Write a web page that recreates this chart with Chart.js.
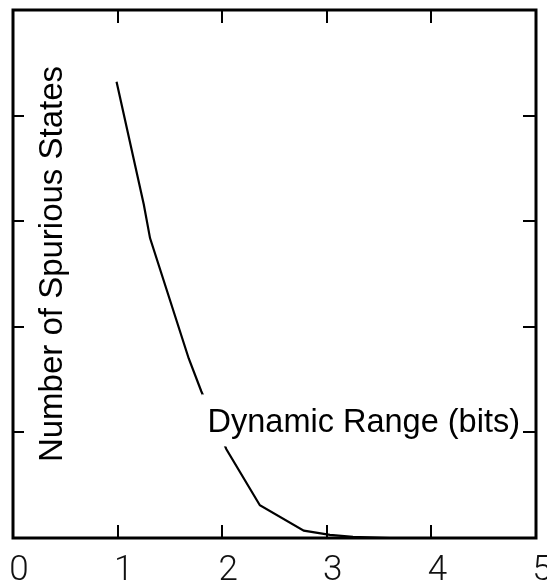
<!DOCTYPE html>
<html><head><meta charset="utf-8">
<script src="https://cdn.jsdelivr.net/npm/chart.js@4/dist/chart.umd.min.js"></script>
<style>html,body{margin:0;padding:0;background:#fff;overflow:hidden;}#wrap{width:547px;height:588px;}</style>
</head><body><div id="wrap"><canvas id="c" width="547" height="588"></canvas></div>
<script>
// Data
const dynamicRangeBits = [0.99, 1.25, 1.31, 1.68, 1.80, 2.04, 2.36, 2.78, 3.03, 3.25, 3.6];
const spuriousStates   = [4.32, 3.16, 2.84, 1.70, 1.39, 0.84, 0.31, 0.07, 0.03, 0.01, 0.0];
const xTickValues = [0, 1, 2, 3, 4, 5];
const yTickValues = [0, 1, 2, 3, 4, 5];
const xAxisTitle = 'Dynamic Range (bits)';
const yAxisTitle = 'Number of Spurious States';

const points = dynamicRangeBits.map((x, i) => ({x: x, y: spuriousStates[i]}));

const framePlugin = {
  id: 'frame',
  afterDatasetsDraw(chart) {
    const ctx = chart.ctx;
    const xs = chart.scales.x;
    ctx.save();
    ctx.font = '32.5px "Liberation Sans", Arial, sans-serif';
    ctx.textBaseline = 'alphabetic';
    ctx.textAlign = 'left';
    const tx = xs.getPixelForValue(1.86);
    const ty = chart.scales.y.getPixelForValue(1.0);
    const w = ctx.measureText(xAxisTitle).width;
    ctx.fillStyle = '#fff';
    ctx.fillRect(tx - 6, ty - 38, w + 8, 52);
    ctx.fillStyle = '#000';
    ctx.fillText(xAxisTitle, tx, ty);
    // y title, rotated, inside the frame
    ctx.translate(62, 264);
    ctx.rotate(-Math.PI / 2);
    ctx.textAlign = 'center';
    ctx.font = '33px "Liberation Sans", Arial, sans-serif';
    ctx.fillText(yAxisTitle, 0, 0);
    ctx.restore();
  },
  afterDraw(chart) {
    const ctx = chart.ctx;
    const {left, top, right, bottom} = chart.chartArea;
    const xs = chart.scales.x, ys = chart.scales.y;
    ctx.save();
    ctx.strokeStyle = '#000';
    ctx.lineWidth = 3;
    ctx.strokeRect(left, top, right - left, bottom - top);
    ctx.lineWidth = 2;
    ctx.beginPath();
    xTickValues.slice(1, -1).forEach(v => {
      const px = Math.round(xs.getPixelForValue(v));
      ctx.moveTo(px, bottom); ctx.lineTo(px, bottom - 13);
      ctx.moveTo(px, top); ctx.lineTo(px, top + 13);
    });
    yTickValues.slice(1, -1).forEach(v => {
      const py = Math.round(ys.getPixelForValue(v));
      ctx.moveTo(left, py); ctx.lineTo(left + 11, py);
      ctx.moveTo(right, py); ctx.lineTo(right - 13, py);
    });
    ctx.stroke();
    ctx.restore();
  }
};

new Chart(document.getElementById('c'), {
  type: 'line',
  data: {
    datasets: [{
      data: points,
      borderColor: '#000',
      borderWidth: 2.2,
      pointRadius: 0,
      tension: 0,
      fill: false
    }]
  },
  options: {
    responsive: false,
    animation: false,
    devicePixelRatio: 1,
    layout: {padding: {left: 13, top: 10, right: 11, bottom: 0}},
    plugins: {legend: {display: false}, tooltip: {enabled: false}},
    scales: {
      x: {
        type: 'linear', min: 0, max: 5,
        afterBuildTicks: s => { s.ticks = xTickValues.map(v => ({value: v})); },
        afterFit: s => { s.height = 50; s.paddingLeft = 0; s.paddingRight = 0; },
        grid: {display: false, drawTicks: false},
        border: {display: false},
        ticks: {
          color: '#111',
          padding: 12,
          labelOffset: 6,
          font: {family: 'Roboto, "Liberation Sans", sans-serif', size: 35, weight: 300},
          callback: v => String(v)
        }
      },
      y: {
        type: 'linear', min: 0, max: 5, display: false,
        afterBuildTicks: s => { s.ticks = yTickValues.map(v => ({value: v})); }
      }
    }
  },
  plugins: [framePlugin]
});
</script>
</body></html>
